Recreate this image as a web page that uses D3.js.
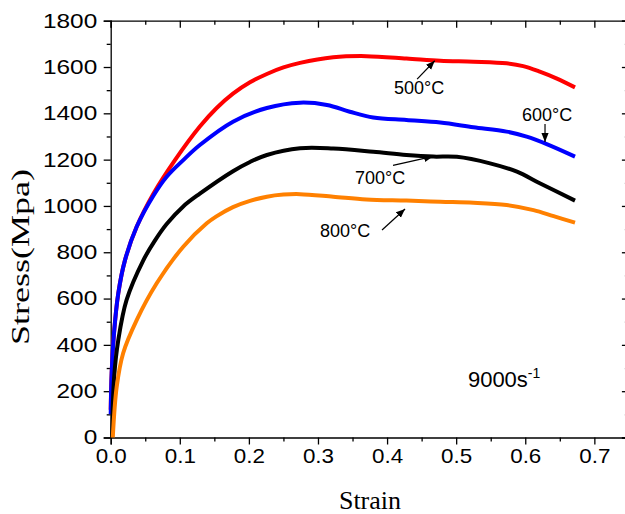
<!DOCTYPE html>
<html>
<head>
<meta charset="utf-8">
<script src="https://cdn.jsdelivr.net/npm/d3@7"></script>
<style>
  body { margin: 0; background: #fff; }
  svg { display: block; }
  .tick text { font-family: "Liberation Sans", Arial, sans-serif; font-size: 20px; fill: #000; }
  .axis path, .axis line { stroke: #000; stroke-width: 1.3; }
</style>
</head>
<body>
<div id="chart"></div>
<script>
// Stress-strain curves at 9000 s^-1
const strain500 = [0, 0.0014, 0.0048, 0.011, 0.0207, 0.0376, 0.062, 0.093, 0.129, 0.153, 0.177, 0.2016, 0.226, 0.25, 0.274, 0.322, 0.370, 0.428, 0.477, 0.525, 0.573, 0.597, 0.621, 0.645, 0.672];
const stress500 = [120, 278, 451, 623, 766, 910, 1054, 1198, 1343, 1422, 1485, 1534, 1570, 1598, 1618, 1642, 1647, 1637, 1627, 1623, 1616, 1604, 1580, 1551, 1512];

const strain600 = [0, 0.0014, 0.0048, 0.011, 0.0207, 0.0376, 0.062, 0.081, 0.105, 0.129, 0.177, 0.226, 0.274, 0.313, 0.346, 0.380, 0.428, 0.477, 0.525, 0.573, 0.602, 0.631, 0.672];
const stress600 = [100, 278, 451, 623, 766, 910, 1045, 1126, 1198, 1263, 1364, 1423, 1446, 1436, 1407, 1382, 1371, 1360, 1340, 1321, 1299, 1267, 1213];

const strain700 = [0.002, 0.005, 0.011, 0.023, 0.047, 0.063, 0.081, 0.105, 0.129, 0.177, 0.2016, 0.226, 0.274, 0.322, 0.380, 0.428, 0.467, 0.501, 0.549, 0.588, 0.621, 0.672];
const stress700 = [0, 262, 421, 594, 764, 846, 922, 998, 1053, 1150, 1190, 1220, 1249, 1248, 1234, 1220, 1213, 1212, 1184, 1148, 1098, 1023];

const strain800 = [0.003, 0.0087, 0.018, 0.0376, 0.0666, 0.105, 0.139, 0.153, 0.177, 0.2016, 0.226, 0.25, 0.274, 0.322, 0.370, 0.428, 0.477, 0.525, 0.573, 0.612, 0.641, 0.672];
const stress800 = [0, 219, 364, 507, 666, 824, 925, 955, 995, 1022, 1040, 1049, 1051, 1040, 1028, 1023, 1018, 1014, 1004, 982, 956, 928];

const series = [
  { name: '500°C', color: '#ff0000', strain: strain500, stress: stress500 },
  { name: '600°C', color: '#0000ff', strain: strain600, stress: stress600 },
  { name: '700°C', color: '#000000', strain: strain700, stress: stress700 },
  { name: '800°C', color: '#ff8000', strain: strain800, stress: stress800 }
];

const xTicks = [0, 0.1, 0.2, 0.3, 0.4, 0.5, 0.6, 0.7];
const yTicks = [0, 200, 400, 600, 800, 1000, 1200, 1400, 1600, 1800];

// labels: text anchor point and arrow (from -> to), in data units
const labelNames = ['500°C', '600°C', '700°C', '800°C'];
const labelPos = [[0.410, 1483], [0.5953, 1367], [0.3536, 1095], [0.303, 866]];
const arrowFrom = [[0.4435, 1548], [0.6286, 1354], [0.4086, 1175], [0.3927, 896]];
const arrowTo = [[0.469, 1627], [0.6286, 1276], [0.4665, 1214], [0.426, 987]];

const width = 625, height = 514;
const svg = d3.select('#chart').append('svg')
  .attr('width', width)
  .attr('height', height);

const x = d3.scaleLinear().domain([0, 0.75]).range([110.7, 628.9]);
const y = d3.scaleLinear().domain([0, 1800]).range([437.5, 20.7]);

const xMinor = d3.range(0.05, 0.75, 0.1);
const yMinor = d3.range(100, 1800, 200);

// the original tick labels are a bit wider than plain Arial
const sxX = 1.12, sxY = 1.22;

// bottom axis
svg.append('g').attr('class', 'axis')
  .attr('transform', `translate(0,${y(0)})`)
  .call(d3.axisBottom(x).tickValues(xTicks).tickSize(7).tickPadding(4).tickFormat(d3.format('.1f')))
  .call(g => g.selectAll('.tick text').attr('dy', '0.71em').attr('transform', `scale(${sxX},1)`));
svg.append('g').attr('class', 'axis')
  .attr('transform', `translate(0,${y(0)})`)
  .call(d3.axisBottom(x).tickValues(xMinor).tickSize(4).tickFormat(''))
  .call(g => g.select('.domain').remove());

// top axis, ticks inward
svg.append('g').attr('class', 'axis')
  .attr('transform', `translate(0,${y(1800)})`)
  .call(d3.axisTop(x).tickValues(xTicks).tickSize(-7).tickFormat(''));
svg.append('g').attr('class', 'axis')
  .attr('transform', `translate(0,${y(1800)})`)
  .call(d3.axisTop(x).tickValues(xMinor).tickSize(-4).tickFormat(''))
  .call(g => g.select('.domain').remove());

// left axis
svg.append('g').attr('class', 'axis')
  .attr('transform', `translate(${x(0)},0)`)
  .call(d3.axisLeft(y).tickValues(yTicks).tickSize(7).tickPadding(6).tickFormat(d3.format('d')))
  .call(g => g.selectAll('.tick text')
    .attr('x', -13.5 / sxY)
    .attr('transform', `scale(${sxY},1)`));
svg.append('g').attr('class', 'axis')
  .attr('transform', `translate(${x(0)},0)`)
  .call(d3.axisLeft(y).tickValues(yMinor).tickSize(4).tickFormat(''))
  .call(g => g.select('.domain').remove());

// right axis, ticks inward
svg.append('g').attr('class', 'axis')
  .attr('transform', `translate(${x(0.75)},0)`)
  .call(d3.axisRight(y).tickValues(yTicks).tickSize(-7).tickFormat(''));
svg.append('g').attr('class', 'axis')
  .attr('transform', `translate(${x(0.75)},0)`)
  .call(d3.axisRight(y).tickValues(yMinor).tickSize(-4).tickFormat(''))
  .call(g => g.select('.domain').remove());

svg.selectAll('.axis .domain').attr('fill', 'none');

// curves
const line = d3.line()
  .x(d => x(d[0]))
  .y(d => y(d[1]))
  .curve(d3.curveCatmullRom.alpha(0.5));

series.forEach(s => {
  const pts = s.strain.map((v, i) => [v, s.stress[i]]);
  svg.append('path')
    .datum(pts)
    .attr('fill', 'none')
    .attr('stroke', s.color)
    .attr('stroke-width', 4)
    .attr('stroke-linejoin', 'round')
    .attr('d', line);
});

// arrow head
svg.append('defs').append('marker')
  .attr('id', 'head')
  .attr('viewBox', '0 0 10 10')
  .attr('refX', 10).attr('refY', 5)
  .attr('markerWidth', 9).attr('markerHeight', 9)
  .attr('markerUnits', 'userSpaceOnUse')
  .attr('orient', 'auto')
  .append('path')
  .attr('d', 'M0,1 L10,5 L0,9 Z')
  .attr('fill', '#000');

labelNames.forEach((name, i) => {
  svg.append('text')
    .attr('x', x(labelPos[i][0]))
    .attr('y', y(labelPos[i][1]))
    .attr('font-family', '"Liberation Sans", Arial, sans-serif')
    .attr('font-size', 18)
    .text(name);
  svg.append('line')
    .attr('x1', x(arrowFrom[i][0])).attr('y1', y(arrowFrom[i][1]))
    .attr('x2', x(arrowTo[i][0])).attr('y2', y(arrowTo[i][1]))
    .attr('stroke', '#000')
    .attr('stroke-width', 1.2)
    .attr('marker-end', 'url(#head)');
});

// strain-rate note
const note = svg.append('text')
  .attr('x', x(0.517))
  .attr('y', y(218))
  .attr('font-family', '"Liberation Sans", Arial, sans-serif')
  .attr('font-size', 22);
note.append('tspan').text('9000s');
note.append('tspan').attr('dy', -9).attr('font-size', 14).text('-1');

// axis titles
svg.append('text')
  .attr('x', 370)
  .attr('y', 509)
  .attr('text-anchor', 'middle')
  .attr('font-family', '"Liberation Serif", "Times New Roman", serif')
  .attr('font-size', 26)
  .text('Strain');

svg.append('text')
  .attr('transform', 'translate(29,257) rotate(-90)')
  .attr('text-anchor', 'middle')
  .attr('font-family', '"Liberation Serif", "Times New Roman", serif')
  .attr('font-size', 26)
  .attr('textLength', 176)
  .attr('lengthAdjust', 'spacingAndGlyphs')
  .text('Stress(Mpa)');
</script>
</body>
</html>
